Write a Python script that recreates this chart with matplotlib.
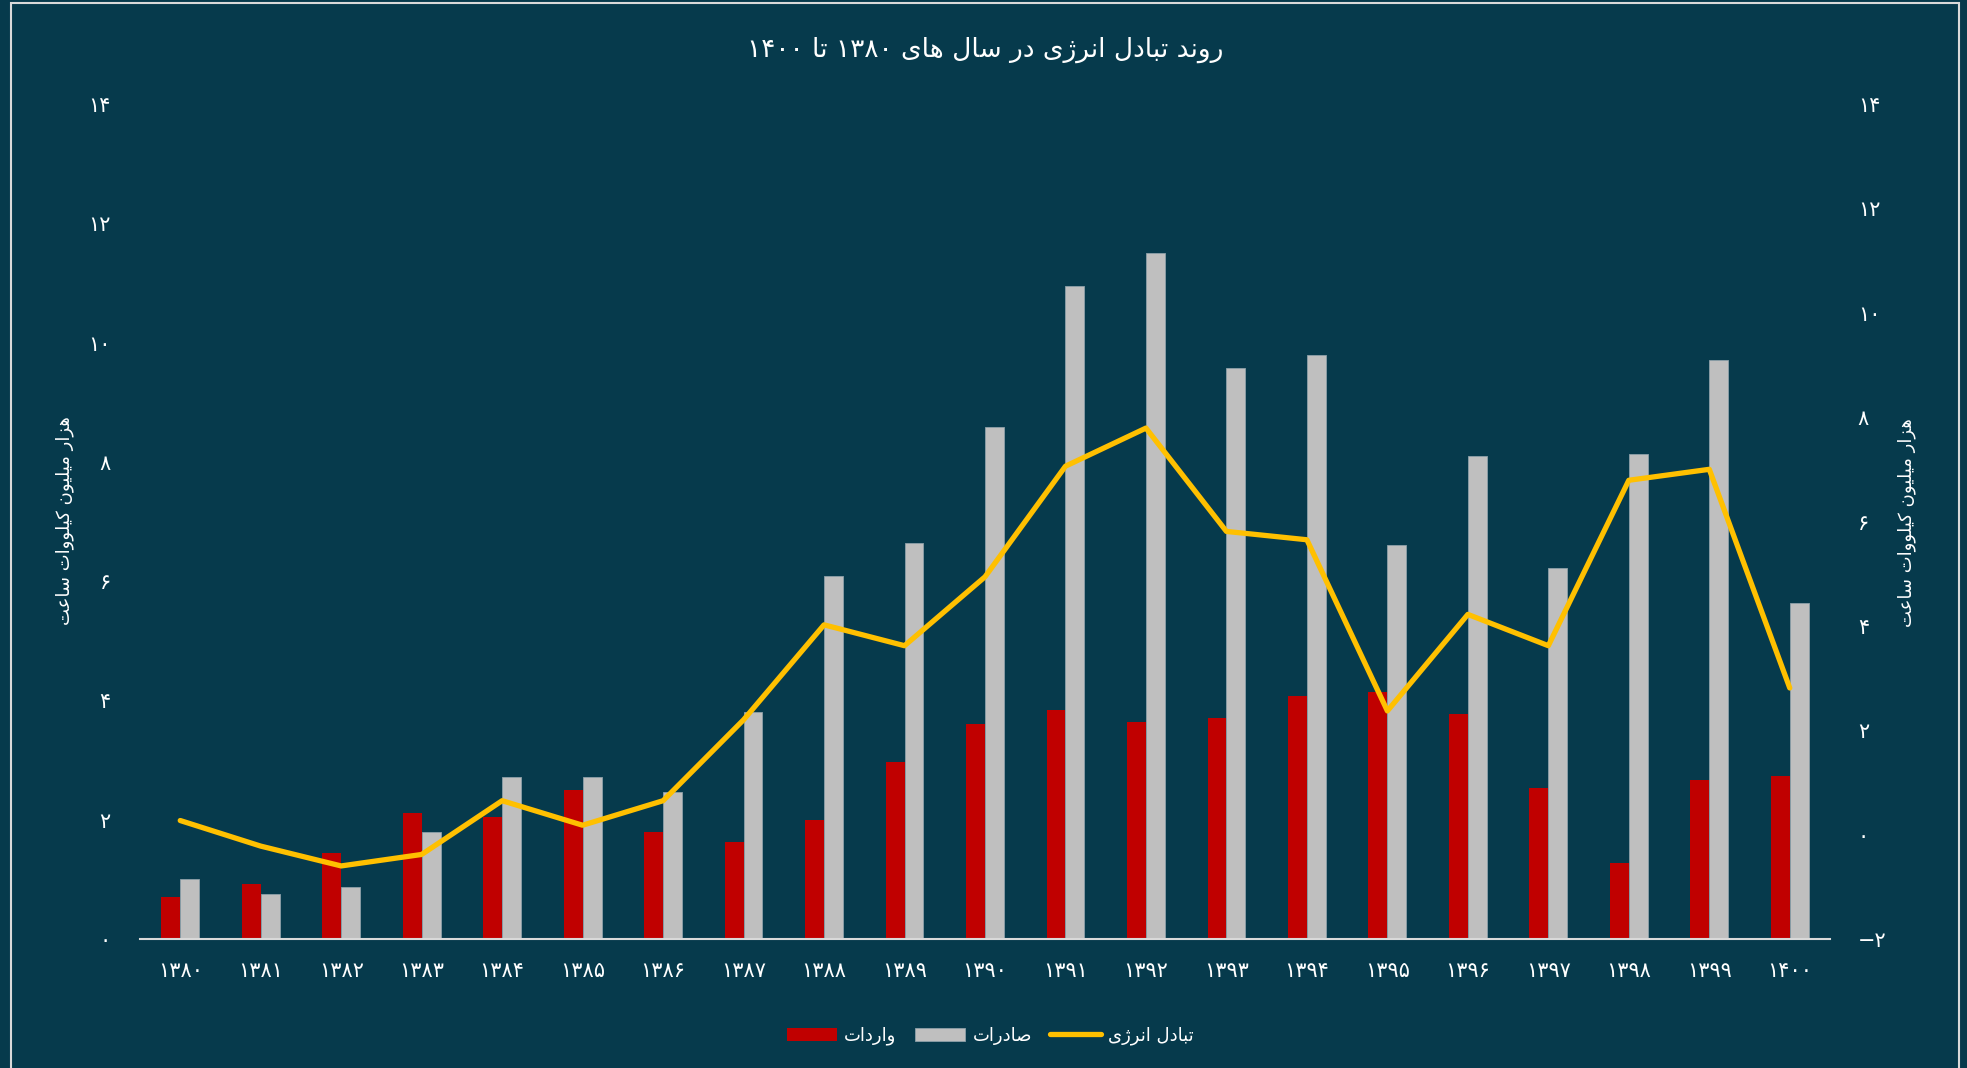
#-------------------------------------------------------------------------------
# plot.py - energy exchange (imports / exports / net), 1380-1400
#-------------------------------------------------------------------------------

import numpy as np
from matplotlib import pyplot as plt
from matplotlib.patches import Rectangle
from matplotlib.ticker import FuncFormatter

years = ['۱۳۸۰', '۱۳۸۱', '۱۳۸۲', '۱۳۸۳', '۱۳۸۴', '۱۳۸۵', '۱۳۸۶', '۱۳۸۷',
         '۱۳۸۸', '۱۳۸۹', '۱۳۹۰', '۱۳۹۱', '۱۳۹۲', '۱۳۹۳', '۱۳۹۴', '۱۳۹۵',
         '۱۳۹۶', '۱۳۹۷', '۱۳۹۸', '۱۳۹۹', '۱۴۰۰']
imports = [0.70, 0.93, 1.45, 2.12, 2.04, 2.49, 1.80, 1.63, 2.00, 2.96, 3.60,
           3.84, 3.64, 3.70, 4.08, 4.14, 3.77, 2.53, 1.28, 2.66, 2.74]
exports = [1.01, 0.76, 0.88, 1.79, 2.71, 2.72, 2.47, 3.81, 6.08, 6.64, 8.59,
           10.95, 11.50, 9.58, 9.80, 6.60, 8.09, 6.22, 8.13, 9.71, 5.64]
net = [0.27, -0.22, -0.60, -0.38, 0.65, 0.18, 0.65, 2.20, 4.02, 3.62, 4.94,
       7.06, 7.79, 5.81, 5.65, 2.37, 4.22, 3.62, 6.79, 7.00, 2.81]

title = 'روند تبادل انرژی در سال های ۱۳۸۰ تا ۱۴۰۰'
ylabel = 'هزار میلیون کیلووات ساعت'
names = ['واردات', 'صادرات', 'تبادل انرژی']

bg = '#063a4c'
fg = 'white'

#-------------------------------------------------------------------------------
# minimal persian shaping (matplotlib has no RTL / joining support)
#-------------------------------------------------------------------------------

FORMS = {
  'ا': ('\uFE8D', '\uFE8E'),
  'د': ('\uFEA9', '\uFEAA'),
  'ر': ('\uFEAD', '\uFEAE'),
  'ز': ('\uFEAF', '\uFEB0'),
  'ژ': ('\uFB8A', '\uFB8B'),
  'و': ('\uFEED', '\uFEEE'),
  'ب': ('\uFE8F', '\uFE90', '\uFE91', '\uFE92'),
  'ت': ('\uFE95', '\uFE96', '\uFE97', '\uFE98'),
  'س': ('\uFEB1', '\uFEB2', '\uFEB3', '\uFEB4'),
  'ص': ('\uFEB9', '\uFEBA', '\uFEBB', '\uFEBC'),
  'ع': ('\uFEC9', '\uFECA', '\uFECB', '\uFECC'),
  'ک': ('\uFB8E', '\uFB8F', '\uFB90', '\uFB91'),
  'ل': ('\uFEDD', '\uFEDE', '\uFEDF', '\uFEE0'),
  'م': ('\uFEE1', '\uFEE2', '\uFEE3', '\uFEE4'),
  'ن': ('\uFEE5', '\uFEE6', '\uFEE7', '\uFEE8'),
  'ه': ('\uFEE9', '\uFEEA', '\uFEEB', '\uFEEC'),
  'ی': ('\uFBFC', '\uFBFD', '\uFBFE', '\uFBFF'),
}

def shape_word(w):
  out = []
  for i, ch in enumerate(w):
    f = FORMS.get(ch)
    if f is None:
      out.append(ch)
      continue
    prev = FORMS.get(w[i-1]) if i > 0 else None
    nxt = FORMS.get(w[i+1]) if i < len(w) - 1 else None
    jp = prev is not None and len(prev) == 4
    jn = len(f) == 4 and nxt is not None
    if jp and jn:   out.append(f[3])
    elif jp:        out.append(f[1])
    elif jn:        out.append(f[2])
    else:           out.append(f[0])
  return ''.join(reversed(out))

def fa(text):
  words = [w if w.isdigit() else shape_word(w) for w in text.split(' ')]
  return ' '.join(reversed(words))

def fa_num(v, pos=None):
  s = str(int(round(v))).translate(str.maketrans('0123456789', '۰۱۲۳۴۵۶۷۸۹'))
  return s.replace('-', '\u2212')

#-------------------------------------------------------------------------------
# figure
#-------------------------------------------------------------------------------

plt.rcParams['font.family'] = ['DejaVu Sans']

W, H = 1967, 1068
fig = plt.figure(figsize=(W/100, H/100), dpi=100, facecolor=bg)
# light frame: left, top and right edges (bottom runs off the canvas)
fig.patches.append(Rectangle((11/W, -0.2), (1959-11)/W, 1.2 - 3/H,
                             transform=fig.transFigure, fill=False,
                             ec='#d9d9d9', lw=1.5))

ax = fig.add_axes([140/W, 1 - 939/H, 1690/W, 835/H])
ax.set_facecolor(bg)
x = np.arange(len(years))
w = 0.235
b1 = ax.bar(x - w/2, imports, w, color='#c00000')
b2 = ax.bar(x + w/2, exports, w, color='#bfbfbf', ec='#8ea1aa', lw=0.6)
ax.set_xlim(-0.5, len(years) - 0.5)
ax.set_ylim(0, 14)
ax.set_yticks(range(0, 15, 2))
ax.yaxis.set_major_formatter(FuncFormatter(fa_num))
ax.set_xticks(x)
ax.set_xticklabels(years)
for s in ['left', 'right', 'top']: ax.spines[s].set_visible(False)
ax.spines['bottom'].set_color('#d9d9d9')
ax.spines['bottom'].set_linewidth(1.5)
ax.tick_params(axis='x', length=0, pad=16, labelsize=15, labelcolor=fg)
ax.tick_params(axis='y', length=0, pad=21, labelsize=15, labelcolor=fg)

ax2 = ax.twinx()
ln, = ax2.plot(x, net, color='#ffc000', lw=3.8, solid_joinstyle='round',
               solid_capstyle='round')
ax2.set_ylim(-2, 14)
ax2.set_yticks(range(-2, 15, 2))
ax2.yaxis.set_major_formatter(FuncFormatter(fa_num))
for s in ax2.spines.values(): s.set_visible(False)
ax2.tick_params(axis='y', length=0, pad=20, labelsize=15, labelcolor=fg)

fig.text(0.5 * (750 + 1220) / W, 1 - 50/H, fa(title), color=fg, fontsize=19,
         ha='center', va='center')
fig.text(65/W, 1 - 521/H, fa(ylabel), color=fg, fontsize=13, rotation=90,
         ha='center', va='center')
fig.text(1907/W, 1 - 523/H, fa(ylabel), color=fg, fontsize=13, rotation=90,
         ha='center', va='center')

fig.legend([b1, b2, ln], [fa(n) for n in names], loc='center',
           bbox_to_anchor=(990/W, 1 - 1036/H), ncol=3, frameon=False,
           fontsize=13, labelcolor=fg, handlelength=2.8, handletextpad=0.4,
           columnspacing=1.0)

fig.savefig('out.png', dpi=100, facecolor=bg)
